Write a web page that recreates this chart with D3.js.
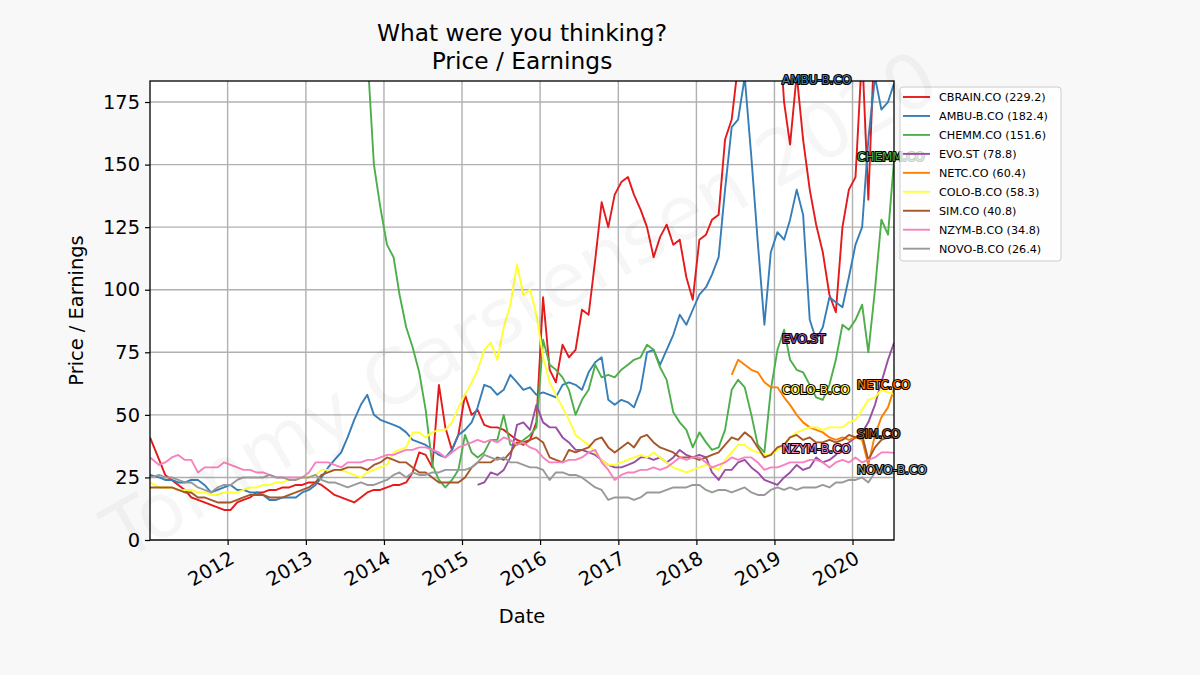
<!DOCTYPE html>
<html>
<head>
<meta charset="utf-8">
<script src="https://cdn.jsdelivr.net/npm/d3@7"></script>
<style>
  body { margin: 0; background: #f8f8f8; }
  svg { display: block; font-family: "DejaVu Sans", sans-serif; }
</style>
</head>
<body>
<svg id="mainsvg" width="1200" height="675"></svg>
<script>
// ---- data (monthly readings, mid-month; first/last day of the span) ----
var tickers = ["CBRAIN.CO", "AMBU-B.CO", "CHEMM.CO", "EVO.ST", "NETC.CO",
               "COLO-B.CO", "SIM.CO", "NZYM-B.CO", "NOVO-B.CO"];
var colors = ["#e41a1c", "#377eb8", "#4daf4a", "#984ea3", "#ff7f00",
              "#ffff33", "#a65628", "#f781bf", "#999999"];
var firstDay = "2011-01-03", lastDay = "2020-07-13";
var yTicks = [0, 25, 50, 75, 100, 125, 150, 175];
var xTickYears = [2012, 2013, 2014, 2015, 2016, 2017, 2018, 2019, 2020];

function lead(n){ return new Array(n).fill(null); }

var cbrain = [
  41, 32, 26, 24, 22, 20, 17, 16, 15, 14, 13, 12,
  12, 15, 16, 17, 19, 19, 20, 20, 21, 21, 22, 22,
  23, 23, 22, 20, 18, 17, 16, 15, 17, 19, 20, 20,
  21, 22, 22, 23, 27, 35, 34, 29, 62, 45, 36, 42,
  58, 50, 52, 46, 45, 45, 44, 42, 40, 39, 40, 47,
  97, 68, 63, 78, 73, 76, 92, 90, 112, 135, 125, 138,
  143, 145, 138, 132, 125, 113, 121, 126, 118, 120, 105, 96,
  120, 122, 128, 130, 160, 168, 190, 205, 215, 225, 235, 240,
  215, 175, 158, 186, 160, 140, 126, 115, 98, 91, 125, 140,
  145, 195, 136, 205, 215, 222, 229.2];
var ambu = [
  26, 25, 24, 24, 23, 23, 24, 24, 22, 19, 20, 21,
  22, 20, 20, 19, 19, 18, 16, 16, 17, 17, 17, 19,
  20, 22, 25, 29, 32, 35, 41, 48, 54, 58, 50, 48,
  47, 46, 45, 43, 40, 39, 38, 36, 34, 33, 36, 42,
  44, 47, 53, 62, 61, 58, 60, 66, 63, 60, 61, 58,
  59, 58, 57, 62, 63, 62, 60, 67, 71, 73, 56, 54,
  56, 55, 53, 60, 75, 76, 70, 76, 82, 90, 86, 92,
  98, 101, 106, 113, 140, 165, 168, 185, 153, 119, 86, 115,
  123, 120, 128, 140, 130, 88, 80, 85, 97, 95, 93, 105,
  118, 125, 160, 185, 172, 175, 182.4];
var chemm = lead(33).concat([
  195, 150, 133,
  118, 113, 98, 85, 77, 67, 52, 30, 24, 21, 24, 28,
  42, 35, 33, 35, 40, 40, 50, 38, 38, 40, 42, 45,
  80, 70, 68, 65, 60, 50, 56, 60, 70, 65, 66, 65,
  68, 70, 72, 73, 78, 76, 69, 64, 51, 47, 44, 37,
  43, 39, 36, 37, 44, 60, 64, 61, 50, 38, 35, 60,
  76, 84, 72, 68, 67, 62, 57, 56, 62, 72, 86, 84,
  88, 94, 75, 100, 128, 122, 151.6]);
var evo = lead(50).concat([
  22, 23, 27, 26, 28, 33, 46, 47, 44, 54,
  47, 45, 45, 41, 39, 36, 36, 35, 34, 32, 30, 29,
  29, 30, 31, 33, 33, 32, 33, 31, 33, 36, 34, 33,
  34, 33, 27, 24, 28, 28, 31, 32, 29, 27, 24, 23,
  22, 25, 27, 30, 28, 29, 33, 31, 32, 34, 37, 39,
  41, 43, 47, 54, 63, 72, 78.8]);
var netc = lead(89).concat([
  66, 72, 70, 68, 67, 63, 61,
  61, 57, 54, 50, 47, 45, 44, 43, 41, 40, 41, 40,
  41, 40, 30, 42, 49, 53, 60.4]);
var colo = [
  23, 21, 21, 21, 20, 20, 20, 19, 19, 18, 18, 19,
  19, 19, 20, 21, 21, 22, 22, 23, 23, 24, 24, 25,
  25, 26, 28, 28, 28, 28, 27, 26, 25, 27, 28, 29,
  30, 35, 36, 37, 43, 43, 41, 43, 44, 44, 47, 53,
  58, 63, 68, 76, 79, 72, 85, 94, 110, 98, 100, 90,
  73, 63, 58, 53, 48, 42, 40, 38, 35, 32, 30, 30,
  31, 32, 33, 34, 33, 35, 33, 31, 29, 28, 27, 28,
  29, 30, 29, 28, 32, 35, 38, 38, 36, 35, 34, 34,
  36, 38, 41, 43, 44, 45, 45, 44, 45, 45, 45, 47,
  48, 52, 56, 57, 60, 59, 58.3];
var sim = [
  21, 21, 21, 21, 20, 19, 19, 17, 17, 16, 15, 15,
  15, 16, 17, 18, 18, 18, 17, 17, 17, 18, 19, 20,
  21, 23, 26, 27, 28, 28, 29, 29, 29, 28, 30, 31,
  33, 32, 31, 31, 29, 27, 27, 25, 23, 23, 23, 23,
  25, 29, 31, 31, 31, 33, 32, 35, 39, 38, 40, 41,
  39, 33, 32, 31, 36, 35, 36, 37, 40, 41, 37, 35,
  37, 39, 37, 41, 42, 39, 37, 36, 35, 33, 33, 33,
  32, 33, 34, 35, 38, 41, 40, 43, 41, 37, 33, 34,
  37, 38, 41, 42, 40, 41, 39, 39, 40, 39, 40, 42,
  41, 42, 32, 37, 40, 41, 40.8];
var nzym = [
  33, 30, 31, 33, 34, 32, 32, 27, 29, 29, 29, 31,
  30, 29, 28, 28, 27, 27, 26, 25, 25, 25, 25, 25,
  27, 31, 31, 31, 30, 29, 31, 31, 31, 32, 32, 33,
  34, 34, 35, 36, 36, 37, 37, 36, 35, 33, 35, 37,
  38, 39, 40, 39, 40, 39, 41, 40, 38, 39, 37, 36,
  33, 31, 31, 31, 32, 32, 33, 35, 36, 31, 28, 24,
  26, 27, 27, 28, 28, 29, 28, 29, 31, 33, 32, 33,
  33, 31, 29, 30, 31, 33, 32, 33, 33, 31, 28, 29,
  29, 30, 31, 31, 31, 32, 32, 31, 29, 31, 32, 31,
  33, 31, 32, 33, 35, 35, 34.8];
var novo = [
  25, 26, 25, 25, 24, 23, 23, 21, 20, 19, 21, 22,
  22, 24, 25, 25, 25, 25, 26, 25, 25, 24, 24, 25,
  25, 26, 24, 23, 23, 22, 21, 22, 23, 22, 22, 23,
  24, 26, 27, 25, 27, 26, 26, 27, 27, 28, 28, 28,
  28, 29, 31, 34, 33, 32, 33, 31, 31, 30, 29, 29,
  28, 24, 27, 27, 26, 26, 25, 23, 21, 20, 16, 17,
  17, 17, 16, 17, 19, 19, 19, 20, 21, 21, 21, 22,
  22, 20, 19, 20, 20, 19, 20, 21, 19, 18, 18, 20,
  21, 20, 21, 20, 21, 21, 21, 22, 21, 23, 23, 24,
  24, 25, 23, 27, 27, 27, 26.4];

var seriesValues = [cbrain, ambu, chemm, evo, netc, colo, sim, nzym, novo];

// ---- dates ----
var parse = d3.utcParse("%Y-%m-%d");
var dates = d3.utcMonth.range(parse("2011-01-01"), parse("2020-08-01"))
    .map(function(d){ return d3.utcDay.offset(d, 14); });
dates[0] = parse(firstDay);
dates[dates.length - 1] = parse(lastDay);

// ---- layout ----
var svg = d3.select("#mainsvg");
var W = 1200, H = 675;
var m = {left: 150, right: 894, top: 81, bottom: 540};
var yMax = 183.4;

svg.append("rect").attr("width", W).attr("height", H).attr("fill", "#f8f8f8");

var x = d3.scaleUtc().domain([parse(firstDay), parse(lastDay)]).range([m.left, m.right]);
var y = d3.scaleLinear().domain([0, yMax]).range([m.bottom, m.top]);

svg.append("rect")
    .attr("x", m.left).attr("y", m.top)
    .attr("width", m.right - m.left).attr("height", m.bottom - m.top)
    .attr("fill", "white");

svg.append("clipPath").attr("id", "plotclip")
    .append("rect")
    .attr("x", m.left).attr("y", m.top)
    .attr("width", m.right - m.left).attr("height", m.bottom - m.top);

// grid
var grid = svg.append("g").attr("class", "grid");
var xTickDates = xTickYears.map(function(yr){ return new Date(Date.UTC(yr, 0, 1)); });
grid.selectAll("line.vx").data(xTickDates).enter().append("line")
    .attr("x1", function(d){ return x(d); }).attr("x2", function(d){ return x(d); })
    .attr("y1", m.top).attr("y2", m.bottom)
    .attr("stroke", "#b0b0b0").attr("stroke-width", 1.4);
grid.selectAll("line.hy").data(yTicks).enter().append("line")
    .attr("x1", m.left).attr("x2", m.right)
    .attr("y1", function(d){ return y(d); }).attr("y2", function(d){ return y(d); })
    .attr("stroke", "#b0b0b0").attr("stroke-width", 1.4);

// lines
var line = d3.line()
    .defined(function(d){ return d.v !== null; })
    .x(function(d){ return x(d.date); })
    .y(function(d){ return y(d.v); });

var lines = svg.append("g").attr("clip-path", "url(#plotclip)");
seriesValues.forEach(function(vals, i){
    var pts = vals.map(function(v, j){ return {date: dates[j], v: v}; });
    lines.append("path")
        .datum(pts)
        .attr("d", line)
        .attr("fill", "none")
        .attr("stroke", colors[i])
        .attr("stroke-width", 1.9)
        .attr("stroke-linejoin", "round");
});

// axes
var yAxis = svg.append("g")
    .attr("transform", "translate(" + m.left + ",0)")
    .call(d3.axisLeft(y).tickValues(yTicks).tickSize(5).tickPadding(5));
var xAxis = svg.append("g")
    .attr("transform", "translate(0," + m.bottom + ")")
    .call(d3.axisBottom(x).tickValues(xTickDates).tickSize(5)
          .tickFormat(d3.utcFormat("%Y")));
[xAxis, yAxis].forEach(function(a){
    a.select(".domain").remove();
    a.selectAll(".tick line").attr("stroke", "#000").attr("stroke-width", 1.2);
    a.selectAll(".tick text")
        .attr("font-family", "DejaVu Sans").attr("font-size", 19.4).attr("fill", "#000");
});
xAxis.selectAll(".tick text")
    .attr("text-anchor", "end")
    .attr("y", 0).attr("dy", "0.78em")
    .attr("transform", "translate(0,9) rotate(-30)");

svg.append("rect")
    .attr("x", m.left).attr("y", m.top)
    .attr("width", m.right - m.left).attr("height", m.bottom - m.top)
    .attr("fill", "none").attr("stroke", "#000").attr("stroke-width", 1.3);

// titles
var title = svg.append("text").attr("x", (m.left + m.right) / 2)
    .attr("text-anchor", "middle").attr("font-size", 23.3).attr("fill", "#000");
title.append("tspan").attr("x", (m.left + m.right) / 2).attr("y", 41).text("What were you thinking?");
title.append("tspan").attr("x", (m.left + m.right) / 2).attr("y", 69).text("Price / Earnings");

svg.append("text")
    .attr("x", (m.left + m.right) / 2).attr("y", 623)
    .attr("text-anchor", "middle").attr("font-size", 19.4).text("Date");
svg.append("text")
    .attr("transform", "translate(83," + ((m.top + m.bottom) / 2) + ") rotate(-90)")
    .attr("text-anchor", "middle").attr("font-size", 19.4).text("Price / Earnings");

// end-of-line labels, alternating columns by rank
var lastVals = seriesValues.map(function(v){ return v[v.length - 1]; });
var order = d3.range(tickers.length).sort(function(a, b){ return lastVals[b] - lastVals[a]; });
var endLabels = svg.append("g");
order.forEach(function(idx, rank){
    if (lastVals[idx] > yMax) return;
    endLabels.append("text")
        .attr("x", rank % 2 === 1 ? m.right - 112 : m.right - 37)
        .attr("y", y(lastVals[idx]))
        .attr("font-size", 12)
        .attr("fill", colors[idx])
        .attr("stroke", "#000").attr("stroke-width", 2.2)
        .attr("paint-order", "stroke")
        .attr("stroke-linejoin", "round")
        .text(tickers[idx]);
});

// legend
var legend = svg.append("g").attr("transform", "translate(900,87)");
legend.append("rect")
    .attr("width", 161).attr("height", 174).attr("rx", 3)
    .attr("fill", "white").attr("fill-opacity", 0.8)
    .attr("stroke", "#cccccc").attr("stroke-width", 1);
tickers.forEach(function(t, i){
    var row = legend.append("g").attr("transform", "translate(0," + (10 + i * 18.96) + ")");
    row.append("line").attr("x1", 3).attr("x2", 30)
        .attr("stroke", colors[i]).attr("stroke-width", 1.9);
    row.append("text").attr("x", 39).attr("dy", "0.36em")
        .attr("font-size", 11.2).attr("fill", "#000")
        .text(t + " (" + lastVals[i].toFixed(1) + ")");
});

// watermark
svg.append("text")
    .attr("transform", "translate(520,305) rotate(-29.7)")
    .attr("text-anchor", "middle").attr("dy", "0.35em")
    .attr("font-size", 76).attr("fill", "#000").attr("fill-opacity", 0.035)
    .style("pointer-events", "none")
    .text("Tommy Carstensen 2020");
</script>
</body>
</html>
